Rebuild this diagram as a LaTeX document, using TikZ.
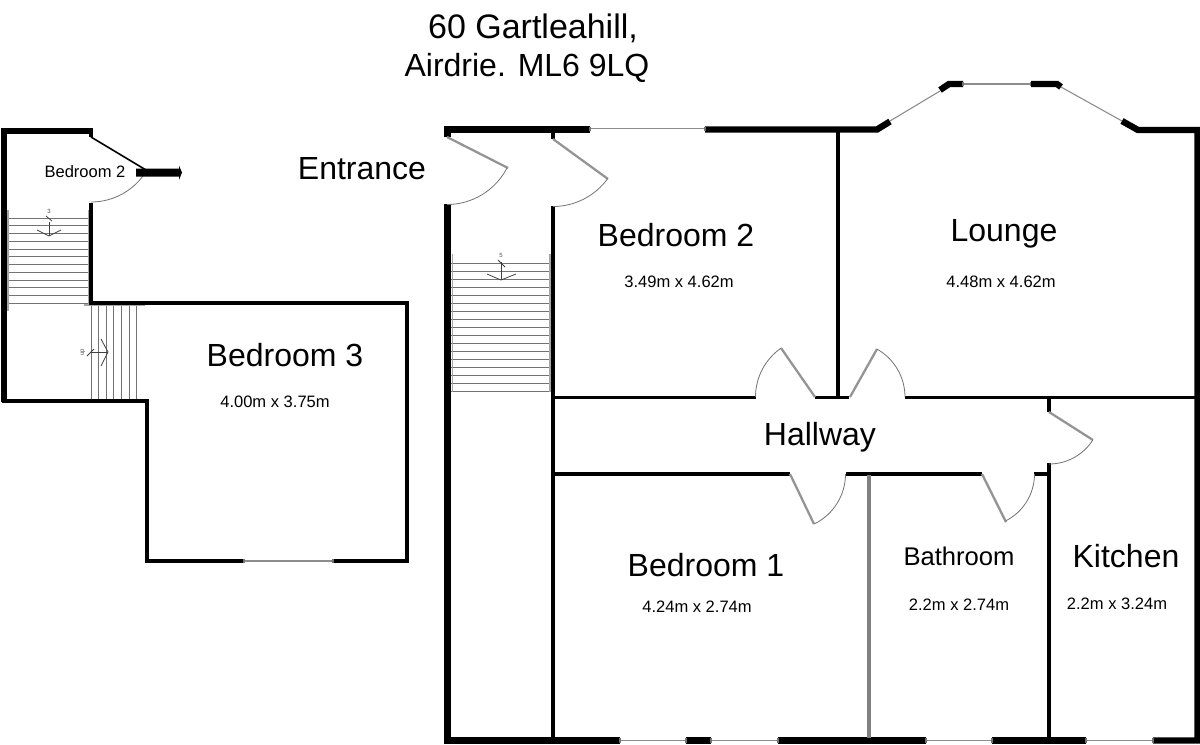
\documentclass[tikz,border=0pt]{standalone}
\usepackage{fontspec}
\setmainfont{Liberation Sans}
\tikzset{
  wallthick/.style={draw=black,line width=4.8pt,line join=miter},
  wallmid/.style={draw=black,line width=3pt},
  wallthin/.style={draw=black,line width=2.6pt},
  wallgrey/.style={draw=black!50,line width=2.4pt},
  winline/.style={draw=black!45,line width=1.2pt},
  wincap/.style={draw=black!55,line width=0.8pt},
  leaf/.style={draw=black!42,line width=1.7pt},
  swing/.style={draw=black!55,line width=0.6pt},
  tread/.style={draw=black!55,line width=0.75pt},
  rail/.style={draw=black!35,line width=1.1pt},
  walkline/.style={draw=black!75,line width=0.6pt},
  big/.style={font=\fontsize{24}{28}\selectfont,inner sep=0pt},
  mid/.style={font=\fontsize{19.2}{22}\selectfont,inner sep=0pt},
  small/.style={font=\fontsize{12.4}{15}\selectfont,inner sep=0pt},
  tiny/.style={font=\fontsize{4.5}{5}\selectfont,inner sep=0pt,text=black!70},
}
\begin{document}
\begin{tikzpicture}[x=0.75pt,y=-0.75pt]
\useasboundingbox (0,0) rectangle (1200,744);
\fill[white] (0,0) rectangle (1200,744);

% ===== upper-left plan =====
% stairs going down
\foreach \k in {0,...,11} \draw[tread] (8,{218+7.75*\k}) -- (89,{218+7.75*\k});
\draw[rail] (8,210) -- (8,311);
\draw[rail] (89,210) -- (89,304);
\draw[walkline] (49,222) -- (49,236);
\draw[walkline] (37,230) -- (49,236) -- (61,230);
\draw[walkline] (46,216) -- (52,221);
\node[tiny] (stepsa) at (49,211) {3};
% stairs across
\foreach \k in {0,...,6} \draw[tread] ({91+7.65*\k},304) -- ({91+7.65*\k},399);
\draw[rail] (84,305) -- (145,305);
\draw[walkline] (90,352) -- (108,352);
\draw[walkline] (101,339) -- (108,352) -- (101,366);
\draw[walkline] (87,356) -- (94,349);
\node[tiny,rotate=90] (stepsb) at (83,352) {up};
% walls
\draw[wallthick] (92,131) -- (4,131) -- (4,402);
\draw[wallthick,line width=3pt] (91,128) -- (91,137);
\draw[wallmid] (91,203) -- (91,303) -- (407,303) -- (407,561) -- (333,561);
\draw[wallmid] (244,561) -- (147,561) -- (147,401) -- (2,401);
\draw[winline] (244,561) -- (333,561);
\draw[wincap] (244,559) -- (244,563) (333,559) -- (333,563);
% door
\draw[draw=black,line width=1.2pt] (91,137) -- (146,170);
\draw[swing] (91,137) ++(31:65) arc (31:90:65);
\fill[black] (136,168.5) -- (179,168.5) -- (179,165.5) -- (182,172.5) -- (179,180) -- (179,176.5) -- (136,176.5) -- cycle;
\node[small] (lblsmall) at (85,172) {Bedroom 2};
\node[big] (lblbedthree) at (285,355) {Bedroom 3};
\node[small] (dimbedthree) at (275,402) {4.00m x 3.75m};

% ===== main plan =====
% stairs
\foreach \k in {0,...,16} \draw[tread] (451,{263+8.05*\k}) -- (551,{263+8.05*\k});
\draw[rail] (452.5,254) -- (452.5,392);
\draw[rail] (550,254) -- (550,392);
\draw[walkline] (501,262) -- (501,280);
\draw[walkline] (487,274) -- (501,280) -- (516,274);
\draw[walkline] (498,260) -- (505,267);
\node[tiny] (stepsc) at (501,255) {5};
% outer walls
\draw[wallthick] (447.5,137) -- (447.5,129.5) -- (590,129.5);
\draw[wallthick] (447.5,204) -- (447.5,744);
\draw[wallthick] (705,129.5) -- (877,129.5) -- (890,121.5);
\draw[winline] (590,128.5) -- (705,128.5);
\draw[wincap] (590,126.5) -- (590,130.5) (705,126.5) -- (705,130.5);
\draw[winline,line width=0.8pt] (890,121) -- (940,91);
\draw[wallthick] (940,90) -- (949,84) -- (963,84);
\draw[winline,line width=0.9pt] (963,84) -- (1031,84);
\draw[wincap] (963,82) -- (963,86) (1031,82) -- (1031,86);
\draw[wallthick] (1031,84) -- (1057,84) -- (1061,87);
\draw[winline,line width=0.8pt] (1061,87) -- (1122,121);
\draw[wallthick] (1122,121) -- (1138,130) -- (1197.5,130) -- (1197.5,740.5) -- (1153,740.5);
\draw[wallthick] (447.5,740.5) -- (620,740.5);
\draw[wallthick] (686,740.5) -- (711,740.5);
\draw[wallthick] (778,740.5) -- (926,740.5);
\draw[wallthick] (992,740.5) -- (1086,740.5);
% bottom windows
\draw[winline,line width=1.3pt] (620,740.5) -- (686,740.5) (711,740.5) -- (778,740.5) (926,740.5) -- (992,740.5) (1086,740.5) -- (1153,740.5);
\draw[wincap] (620,738) -- (620,743) (686,738) -- (686,743) (711,738) -- (711,743) (778,738) -- (778,743) (926,738) -- (926,743) (992,738) -- (992,743) (1086,738) -- (1086,743) (1153,738) -- (1153,743);
% inner walls
\draw[wallmid] (553,132) -- (553,139);
\draw[wallmid] (553,206) -- (553,740);
\draw[wallthin] (838,130) -- (838,397);
\draw[wallthin] (553,397.5) -- (756,397.5) (815,397.5) -- (849,397.5) (905,397.5) -- (1197,397.5);
\draw[wallthin] (553,474) -- (790,474) (846,474) -- (982,474) (1034,474) -- (1049,474);
\draw[wallthin] (1049,397) -- (1049,412) (1049,463) -- (1049,740);
\draw[wallgrey] (869,475) -- (869,738);
% doors
\draw[leaf] (447,137) -- (508,168);
\draw[swing] (447,137) ++(27:67.5) arc (27:90:67.5);
\draw[leaf] (553,139) -- (608,179);
\draw[swing] (553,139) ++(36:67.5) arc (36:90:67.5);
\draw[leaf] (815,397) -- (781,348);
\draw[swing] (815,397) ++(180:59.5) arc (180:235:59.5);
\draw[leaf] (850,397) -- (877,349);
\draw[swing] (850,397) ++(-60.6:55) arc (-60.6:0:55);
\draw[leaf] (790,474) -- (814,524);
\draw[swing] (790,474) ++(0:55.5) arc (0:64:55.5);
\draw[leaf] (982,474) -- (1006,522);
\draw[swing] (982,474) ++(0:52.5) arc (0:63.4:52.5);
\draw[leaf] (1049,412) -- (1093,440);
\draw[swing] (1049,412) ++(32.5:52) arc (32.5:90:52);
% labels
\node[font=\fontsize{25.5}{30}\selectfont,inner sep=0pt] (title) at (533,28) {60 Gartleahill,};
\node[big] (titleb) at (527,68) {Airdrie. ML6 9LQ};
\node[big] (entrance) at (362,169) {Entrance};
\node[big] (lblbedtwo) at (676,235) {Bedroom 2};
\node[small] (dimbedtwo) at (679,282) {3.49m x 4.62m};
\node[big] (lbllounge) at (1004,234) {Lounge};
\node[small] (dimlounge) at (1001,282) {4.48m x 4.62m};
\node[big] (lblhall) at (820,437) {Hallway};
\node[big] (lblbedone) at (706,565) {Bedroom 1};
\node[small] (dimbedone) at (697,607) {4.24m x 2.74m};
\node[mid] (lblbath) at (959,556) {Bathroom};
\node[small] (dimbath) at (959,605) {2.2m x 2.74m};
\node[big] (lblkitchen) at (1126,556) {Kitchen};
\node[small] (dimkitchen) at (1117,604) {2.2m x 3.24m};
\end{tikzpicture}
\end{document}
